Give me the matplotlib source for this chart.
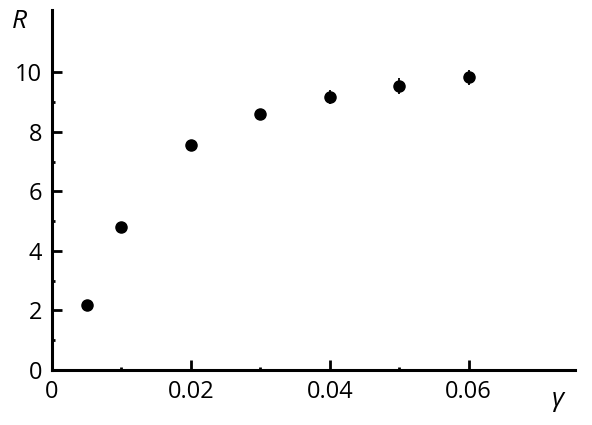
import matplotlib.pyplot as plt
from matplotlib.ticker import FixedLocator

plt.rcParams['font.family'] = ['Open Sans', 'DejaVu Sans']

# data
gamma = [0.005, 0.01, 0.02, 0.03, 0.04, 0.05, 0.06]
R = [2.17, 4.81, 7.57, 8.61, 9.17, 9.53, 9.84]
R_err = [0.0, 0.0, 0.0, 0.0, 0.23, 0.27, 0.26]

xticks = [0, 0.02, 0.04, 0.06]
xlabels = ['0', '0.02', '0.04', '0.06']
xminor = [0.01, 0.03, 0.05]
yticks = [0, 2, 4, 6, 8, 10]
yminor = [1, 3, 5, 7, 9]

fig = plt.figure(figsize=(5.92, 4.25), dpi=100)
ax = fig.add_axes([52 / 592, 55 / 425, (575 - 52) / 592, (370 - 10) / 425])

ax.errorbar(gamma, R, yerr=R_err, fmt='o', color='black', ms=8,
            elinewidth=1.3, capsize=0)

ax.set_xlim(0, 0.0753)
ax.set_ylim(0, 12.1)
ax.set_xticks(xticks)
ax.set_xticklabels(xlabels)
ax.set_yticks(yticks)
ax.xaxis.set_minor_locator(FixedLocator(xminor))
ax.yaxis.set_minor_locator(FixedLocator(yminor))

for s in ['top', 'right']:
    ax.spines[s].set_visible(False)
for s in ['left', 'bottom']:
    ax.spines[s].set_linewidth(2.2)

ax.tick_params(which='major', direction='in', length=7.5, width=2, labelsize=17, pad=7)
ax.tick_params(which='minor', direction='in', length=2.5, width=2)

fig.text(19 / 592, 1 - 21 / 425, 'R', fontsize=19, style='italic', ha='center', va='center')
fig.text(558 / 592, 1 - 400 / 425, 'γ', fontsize=19, style='italic', ha='center', va='center')

fig.savefig('out.png')
